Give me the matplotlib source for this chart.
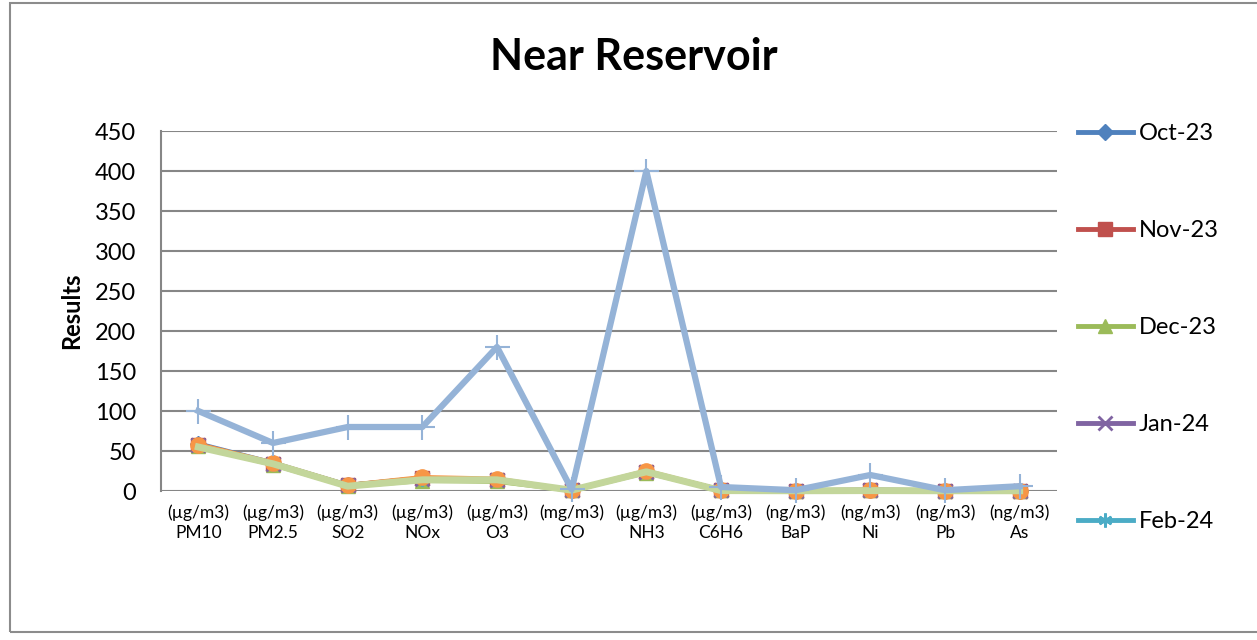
import matplotlib
matplotlib.use('Agg')
import matplotlib.pyplot as plt
from matplotlib.patches import Rectangle

plt.rcParams['font.family'] = ['Lato', 'DejaVu Sans']

# categories (unit + pollutant)
units = ['(µg/m3)', '(µg/m3)', '(µg/m3)', '(µg/m3)', '(µg/m3)', '(mg/m3)',
         '(µg/m3)', '(µg/m3)', '(ng/m3)', '(ng/m3)', '(ng/m3)', '(ng/m3)']
pollutants = ['PM10', 'PM2.5', 'SO2', 'NOx', 'O3', 'CO', 'NH3', 'C6H6', 'BaP', 'Ni', 'Pb', 'As']

# monthly results (series overlap almost completely)
oct23 = [59, 35, 7, 16, 14, 1, 24, 1, 0.5, 1, 0.5, 0.5]
nov23 = [58, 34, 7, 16, 14, 1, 24, 1, 0.5, 1, 0.5, 0.5]
dec23 = [56, 33, 6, 13, 12, 0.8, 23, 0.8, 0.3, 0.8, 0.3, 0.3]
jan24 = [57, 34, 7, 15, 14, 1, 24, 1, 0.5, 1, 0.5, 0.5]
feb24 = [57, 34, 7, 15, 14, 1, 24, 1, 0.5, 1, 0.5, 0.5]
mar24 = [58, 35, 7, 17, 15, 1, 25, 1, 0.5, 1, 0.5, 0.5]
limit = [100, 60, 80, 80, 180, 2, 400, 5, 1, 20, 1, 6]
average = [55, 34, 6, 14, 14, 1, 24, 0.5, 0.3, 0.5, 0.3, 0.3]

fig = plt.figure(figsize=(12.57, 6.4), dpi=100)

# chart border
fig.patches.append(Rectangle((10 / 1257, 8 / 640), 1.0, 629 / 640, transform=fig.transFigure,
                             fill=False, edgecolor='#8c8c8c', linewidth=1.5))

ax = fig.add_axes([161 / 1257, 149 / 640, 896 / 1257, 360 / 640])
x = list(range(len(pollutants)))

ax.plot(x, oct23, color='#4f81bd', lw=3.5, marker='D', ms=8, label='Oct-23', zorder=3, clip_on=False)
ax.plot(x, nov23, color='#c0504d', lw=3.5, marker='s', ms=10, label='Nov-23', zorder=3, clip_on=False)
ax.plot(x, dec23, color='#9bbb59', lw=3.5, marker='^', ms=10, label='Dec-23', zorder=3, clip_on=False)
ax.plot(x, jan24, color='#8064a2', lw=3.5, marker='x', ms=10, mew=2, label='Jan-24', zorder=3, clip_on=False)
ax.plot(x, feb24, color='#4bacc6', lw=3.5, marker=(6, 2, 0), ms=10, mew=2, label='Feb-24', zorder=3,
        clip_on=False)
ax.plot(x, mar24, color='#f79646', lw=3.5, marker='o', ms=11, zorder=3, clip_on=False)
ax.plot(x, average, color='#c3d69b', lw=5, zorder=4, clip_on=False)
ax.plot(x, limit, color='#95b3d7', lw=4.5, marker='+', ms=18, mew=1.5, zorder=5, clip_on=False)

ax.set_xlim(-0.5, 11.5)
ax.set_ylim(0, 450)
ax.set_yticks(range(0, 451, 50))
ax.set_xticks(x)
ax.set_xticklabels([u + '\n' + p for u, p in zip(units, pollutants)], fontsize=12.5, linespacing=1.25)
ax.tick_params(axis='y', labelsize=17, length=0, pad=18)
ax.tick_params(axis='x', length=0, pad=10)
ax.grid(axis='y', color='#868686', linewidth=1.5)
ax.set_axisbelow(True)
for s in ['top', 'right', 'bottom']:
    ax.spines[s].set_visible(False)
ax.spines['left'].set_color('#868686')
ax.spines['left'].set_linewidth(1.5)
ax.set_ylabel('Results', fontsize=17, fontweight='bold', labelpad=8)

fig.text(634 / 1257, 1 - 57 / 640, 'Near Reservoir', fontsize=31, fontweight='bold',
         ha='center', va='center')

handles, labels = ax.get_legend_handles_labels()
fig.legend(handles, labels, loc='upper left', bbox_to_anchor=(1057 / 1257, 1 - 102 / 640),
           frameon=False, fontsize=17, numpoints=1, handlelength=2.3, handletextpad=0.25,
           labelspacing=3.22)

plt.savefig('out.png', dpi=100)
